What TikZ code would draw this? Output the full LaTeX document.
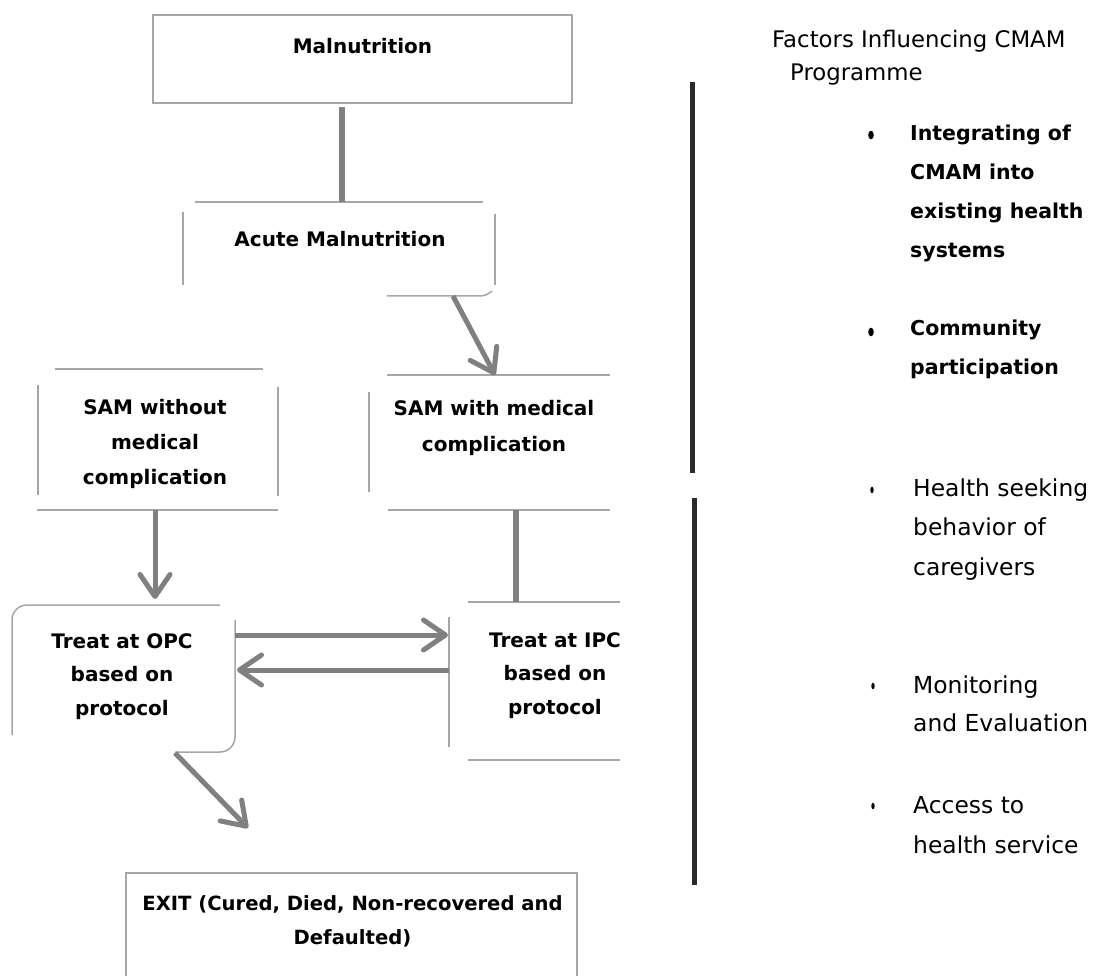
\documentclass[tikz,border=0pt]{standalone}
\usepackage{fontspec}
\setmainfont{DejaVu Sans}
\usetikzlibrary{arrows.meta}
\definecolor{boxgray}{HTML}{A6A6A6}
\definecolor{conngray}{HTML}{808080}
\definecolor{bardark}{HTML}{2B2B2B}
\newcommand\ctrlines[2]{\vtop{\baselineskip=#1\lineskip=0pt\lineskiplimit=-1000pt\halign{\hfil##\hfil\cr#2\crcr}}}
\newcommand\leftlines[2]{\vtop{\baselineskip=#1\lineskip=0pt\lineskiplimit=-1000pt\halign{##\hfil\cr#2\crcr}}}
\begin{document}
\begin{tikzpicture}[x=1pt,y=-1pt,
  boxn/.style={inner sep=0pt,outer sep=0pt,draw=none},
  edgeline/.style={draw=boxgray,line width=1.5pt},
  bt/.style={inner sep=0pt,anchor=base,font=\bfseries\fontsize{20}{34}\selectfont},
  thickconn/.style={draw=conngray,line width=6.5pt},
  arr/.style={draw=conngray,line width=5pt,-{Straight Barb[length=22pt,width=30pt,round]}},
  sidebar/.style={draw=bardark,line width=5pt},
  listtext/.style={inner sep=0pt,anchor=base west},
  titletext/.style={font=\fontsize{22.8}{39}\selectfont},
  regtext/.style={font=\fontsize{23.4}{39}\selectfont},
  boldtext/.style={font=\bfseries\fontsize{20.5}{39}\selectfont}]
\fill[white] (0,0) rectangle (1095,976);
\useasboundingbox (0,0) rectangle (1095,976);

% box nodes (geometry)
\node[boxn,minimum width=419pt,minimum height=88pt] (mal) at (362.5,59) {};
\node[boxn,minimum width=312pt,minimum height=94pt] (acute) at (339,249) {};
\node[boxn,minimum width=240pt,minimum height=141pt] (samw) at (158,439.5) {};
\node[boxn,minimum width=239pt,minimum height=135pt] (samm) at (488.5,442.5) {};
\node[boxn,minimum width=223pt,minimum height=147pt] (opc) at (123.5,678.5) {};
\node[boxn,minimum width=171pt,minimum height=158pt] (ipc) at (534.5,681) {};
\node[boxn,minimum width=451pt,minimum height=107pt] (exit) at (351.5,926.5) {};

% box outlines (partial, as scanned)
\draw[edgeline] (mal.south west) rectangle (mal.north east);
\draw[edgeline] (195,202) -- (483,202);
\draw[edgeline] (183,212) -- (183,285);
\draw[edgeline] (495,214) -- (495,285);
\draw[edgeline] (387,296) -- (478,296) .. controls (486,296) and (488,294) .. (492,291);
\draw[edgeline] (55,369) -- (263,369);
\draw[edgeline] (38,385) -- (38,495);
\draw[edgeline] (278,387) -- (278,496);
\draw[edgeline] (37,510) -- (278,510);
\draw[edgeline] (387,375) -- (610,375);
\draw[edgeline] (369,392) -- (369,492);
\draw[edgeline] (388,510) -- (610,510);
\draw[edgeline,rounded corners=15pt] (12,735) -- (12,605) -- (220,605);
\draw[edgeline,rounded corners=15pt] (235,620) -- (235,752) -- (175,752);
\draw[edgeline] (468,602) -- (620,602);
\draw[edgeline] (449,617) -- (449,747);
\draw[edgeline] (468,760) -- (620,760);
\draw[edgeline] (126,980) -- (126,873) -- (577,873) -- (577,980);

% texts
\node[bt] (malT) at (362.5,54) {Malnutrition};
\node[bt] (acT) at (340,247) {Acute Malnutrition};
\node[bt] (samwT) at (155,414) {\ctrlines{35pt}{SAM without\cr medical\cr complication}};
\node[bt] (sammT) at (494,415) {\ctrlines{36pt}{SAM with medical\cr complication}};
\node[bt] (opcT) at (122,648) {\ctrlines{33.5pt}{Treat at OPC\cr based on\cr protocol}};
\node[bt] (ipcT) at (555,647) {\ctrlines{33.5pt}{Treat at IPC\cr based on\cr protocol}};
\node[bt,font=\bfseries\fontsize{19.6}{34}\selectfont] (exitT) at (352.5,910) {\ctrlines{34pt}{EXIT (Cured, Died, Non-recovered and\cr Defaulted)}};

% connectors
\draw[thickconn] ([yshift=-4pt]mal.south -| 342,0) -- (acute.north -| 342,0);
\draw[arr] ([xshift=114pt]acute.south) -- ([xshift=6.5pt]samm.north);
\draw[arr] (samw.south -| samwT) -- ([yshift=6pt]opc.north -| samwT);
\draw[thickconn] ([xshift=27.5pt]samm.south) -- ([xshift=27.5pt]samm.south |- ipc.north);
\draw[arr] ([yshift=43.5pt]opc.east) -- ([yshift=43.5pt,xshift=-1pt]opc.east -| ipc.west);
\draw[arr] ([yshift=8.5pt]opc.east -| ipc.west) -- ([yshift=8.5pt,xshift=2pt]opc.east);
\draw[arr] ([xshift=51.5pt,yshift=-1pt]opc.south) -- ([xshift=-103.5pt,yshift=45pt]exit.north);

% side bars
\draw[sidebar] (692,82) -- (692,473);
\draw[sidebar] (694,498) -- (694,885);

% factors
\node[listtext,titletext] (title) at (772,48) {Factors Influencing CMAM};
\node[listtext,titletext] (title2) at (790,81) {Programme};
\fill (871,135) ellipse [x radius=2.8pt,y radius=4.3pt];
\node[listtext,boldtext] (f1) at (910,140.5) {\leftlines{39pt}{Integrating of\cr CMAM into\cr existing health\cr systems}};
\fill (871,332) ellipse [x radius=2.8pt,y radius=4.3pt];
\node[listtext,boldtext] (f2) at (910,335.5) {\leftlines{39pt}{Community\cr participation}};
\fill (872,490) ellipse [x radius=1.7pt,y radius=3.3pt];
\node[listtext,regtext] (f3) at (913,496) {\leftlines{39.5pt}{Health seeking\cr behavior of\cr caregivers}};
\fill (873,686) ellipse [x radius=1.7pt,y radius=3.3pt];
\node[listtext,regtext] (f4) at (913,693) {\leftlines{38pt}{Monitoring\cr and Evaluation}};
\fill (873,806) ellipse [x radius=1.7pt,y radius=3.3pt];
\node[listtext,regtext] (f5) at (913,813) {\leftlines{40pt}{Access to\cr health service}};
\end{tikzpicture}
\end{document}
